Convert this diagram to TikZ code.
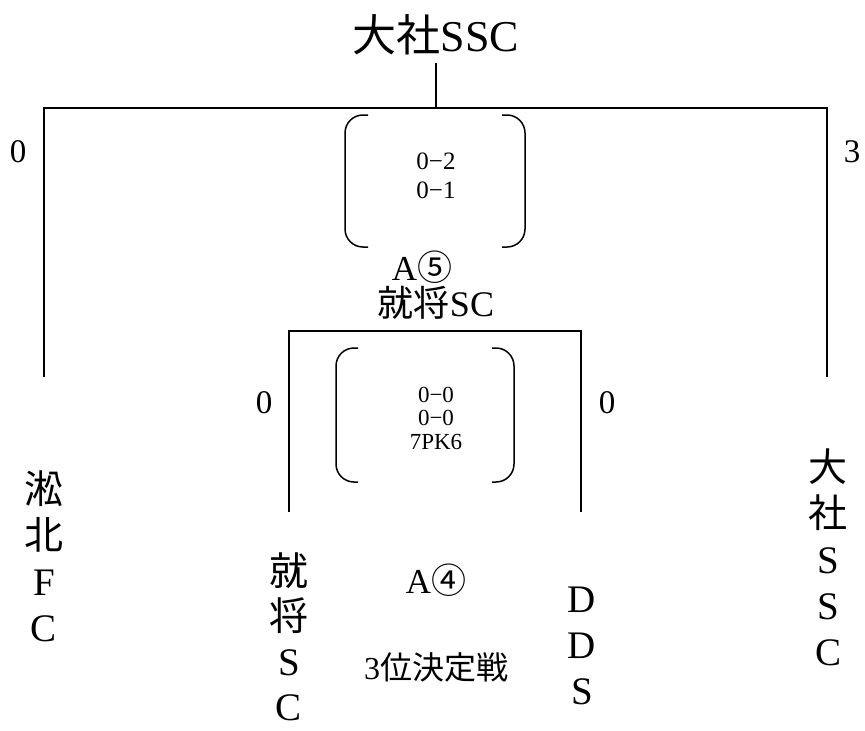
\documentclass[tikz,border=0pt]{standalone}
\usepackage{fontspec}
\setmainfont{Liberation Serif}
\newfontfamily\cjk{Noto Sans CJK JP}
\begin{document}
\begin{tikzpicture}[x=1pt,y=-1pt,line width=2pt,
  thickline/.style={line width=2.8pt},
  bracketline/.style={line width=1.5pt,rounded corners=18pt},
  lbl/.style={inner sep=0pt,anchor=center},
  title/.style={lbl,font=\fontsize{44}{50}\selectfont},
  score/.style={lbl,font=\fontsize{33}{36}\selectfont},
  mid/.style={lbl,font=\fontsize{35}{38}\selectfont},
  inbox/.style={lbl,align=center},
  vname/.style={lbl,align=center,font=\fontsize{39}{46}\selectfont}]
\useasboundingbox (0,0) rectangle (865,731);
% title
\node[title] (champ) at (436,35) {{\cjk 大社}SSC};
\coordinate (c0) at (436,63);
\coordinate (j1) at (436,108);
\coordinate (tl) at (44,108);
\coordinate (tr) at (827,108);
\coordinate (bl) at (44,377);
\coordinate (br) at (827,377);
\draw (c0) -- (j1);
\draw[thickline] (bl) -- (tl) -- (j1);
\draw (j1) -- (tr) -- (br);
\node[score] (s1l) at (18,152) {0};
\node[score] (s1r) at (852,152) {3};
% final bracket
\draw[bracketline] (368,115) -- (345,115) -- (345,247) -- (368,247);
\draw[bracketline] (502,115) -- (525,115) -- (525,247) -- (502,247);
\node[inbox,font=\fontsize{25}{29}\selectfont] (fin) at (436,176) {0−2\\0−1};
\node[mid] (a5) at (422,267) {A{\cjk ⑤}};
\node[lbl,font=\fontsize{36}{40}\selectfont] (semi) at (436,303) {{\cjk 就将}SC};
% semifinal bar
\coordinate (sl) at (289,331);
\coordinate (sr) at (581,331);
\coordinate (sbl) at (289,512);
\coordinate (sbr) at (581,512);
\draw (sbl) -- (sl) -- (sr) -- (sbr);
\node[score] (s2l) at (264,403) {0};
\node[score] (s2r) at (607,403) {0};
\draw[bracketline] (358,348) -- (336,348) -- (336,482) -- (358,482);
\draw[bracketline] (492,348) -- (514,348) -- (514,482) -- (492,482);
\node[inbox,font=\fontsize{23}{23.5}\selectfont] (third) at (436,418) {0−0\\0−0\\7PK6};
\node[mid] (a4) at (436,580) {A{\cjk ④}};
\node[lbl,font=\fontsize{32}{36}\selectfont] (tp) at (436,667) {3{\cjk 位決定戦}};
% team names
\node[vname] (t1) at (44,556) {{\cjk 淞}\\{\cjk 北}\\F\\C};
\node[vname,font=\fontsize{39}{45}\selectfont] (t2) at (289,637) {{\cjk 就}\\{\cjk 将}\\S\\C};
\node[vname] (t3) at (582,646) {D\\D\\S};
\node[vname] (t4) at (828,557) {{\cjk 大}\\{\cjk 社}\\S\\S\\C};
\end{tikzpicture}
\end{document}
